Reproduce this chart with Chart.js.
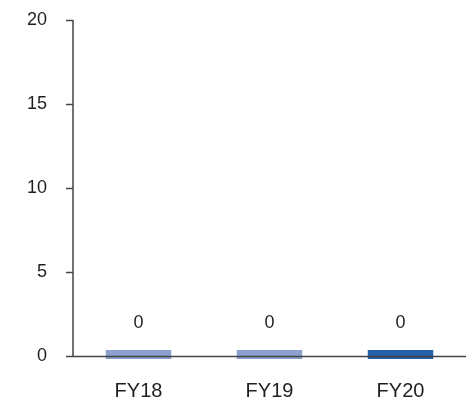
<!DOCTYPE html>
<html>
<head>
<meta charset="utf-8">
<script src="https://cdn.jsdelivr.net/npm/chart.js@4/dist/chart.umd.min.js"></script>
<style>
  html, body { margin: 0; padding: 0; background: #fff; }
  #wrap { width: 466px; height: 403px; }
</style>
</head>
<body>
<div id="wrap"><canvas id="c" width="466" height="403"></canvas></div>
<script>
const categories = ['FY18', 'FY19', 'FY20'];
const values = [0, 0, 0];
const barColors = ['#8C9FCE', '#8C9FCE', '#2561A8'];
const yTicks = [0, 5, 10, 15, 20];

const FONT = '"Liberation Sans", Arial, Helvetica, sans-serif';
const TEXT = '#1f1f1f';
const AXIS = '#444444';
const Y_MIN = -0.15;

// Value labels above each bar plus the two axis lines (drawn over the bars)
const overlay = {
  id: 'overlay',
  afterDatasetsDraw(chart) {
    const { ctx, chartArea, scales } = chart;
    const y0 = scales.y.getPixelForValue(0);
    ctx.save();
    ctx.strokeStyle = AXIS;
    ctx.lineWidth = 1.5;
    ctx.beginPath();
    ctx.moveTo(chartArea.left, chartArea.top);
    ctx.lineTo(chartArea.left, y0);
    ctx.moveTo(chartArea.left, y0);
    ctx.lineTo(chartArea.right, y0);
    ctx.stroke();

    ctx.fillStyle = TEXT;
    ctx.font = '18px ' + FONT;
    ctx.textAlign = 'center';
    ctx.textBaseline = 'middle';
    chart.getDatasetMeta(0).data.forEach((bar, i) => {
      ctx.fillText(String(values[i]), bar.x, bar.y - 27);
    });
    ctx.restore();
  }
};

new Chart(document.getElementById('c'), {
  type: 'bar',
  data: {
    labels: categories,
    datasets: [{
      data: values,
      base: Y_MIN,
      backgroundColor: barColors,
      borderWidth: 0,
      minBarLength: 9,
      barPercentage: 0.5,
      categoryPercentage: 1.0
    }]
  },
  options: {
    responsive: false,
    animation: false,
    layout: { padding: { left: 0, right: 0, top: 20, bottom: 0 } },
    plugins: { legend: { display: false }, tooltip: { enabled: false } },
    scales: {
      x: {
        grid: { display: false, drawTicks: false },
        border: { display: false },
        ticks: { color: TEXT, font: { family: FONT, size: 20 }, padding: 20 },
        afterFit(scale) { scale.height = 44; }
      },
      y: {
        min: Y_MIN,
        max: 20,
        afterBuildTicks(scale) { scale.ticks = yTicks.map(v => ({ value: v })); },
        grid: {
          drawOnChartArea: false,
          drawTicks: true,
          tickLength: 7,
          tickColor: AXIS,
          tickWidth: 1.5
        },
        border: { display: false },
        ticks: { color: TEXT, font: { family: FONT, size: 18 }, padding: 19 },
        afterFit(scale) {
          scale.width = 73;
          scale.paddingTop = 0;
          scale.paddingBottom = 0;
        }
      }
    }
  },
  plugins: [overlay]
});
</script>
</body>
</html>
